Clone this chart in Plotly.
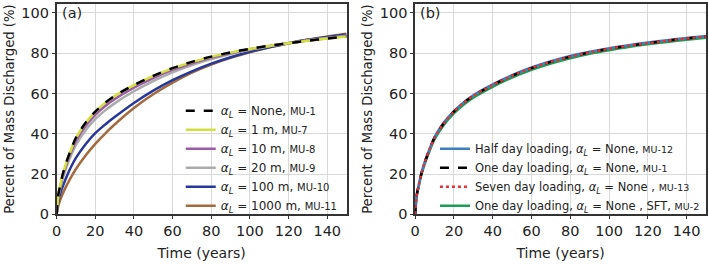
import plotly.graph_objects as go

t = [0, 1, 2, 3, 5, 7.5, 10, 15, 20, 25, 30, 40, 50, 60, 70, 80, 90, 100, 110, 120, 130, 140, 150]

# Panel (a)
mu1 = [0, 10.4, 14.8, 19.3, 25.8, 32.3, 38.0, 45.5, 51.0, 55.3, 58.8, 64.2, 68.8, 72.6, 75.7, 78.3, 80.4, 82.2, 83.7, 85.0, 86.2, 87.3, 88.3]
mu7 = [0, 10.3, 14.7, 19.2, 25.7, 32.2, 37.9, 45.4, 50.9, 55.2, 58.7, 64.1, 68.7, 72.5, 75.6, 78.2, 80.3, 82.1, 83.6, 85.0, 86.2, 87.3, 88.3]
mu8 = [0, 9.9, 14.2, 18.4, 24.7, 31.0, 36.5, 43.9, 49.4, 53.7, 57.2, 62.9, 67.7, 71.7, 75.0, 77.8, 80.0, 82.0, 83.6, 85.0, 86.3, 87.4, 88.5]
mu9 = [0, 9.3, 13.4, 17.2, 23.2, 29.3, 34.5, 41.8, 47.3, 51.5, 55.1, 61.1, 66.2, 70.5, 74.1, 77.1, 79.6, 81.7, 83.5, 85.0, 86.4, 87.6, 88.7]
mu10 = [0, 7.2, 10.7, 13.4, 18.3, 23.6, 28.0, 34.8, 40.3, 44.5, 48.3, 55.3, 61.4, 66.6, 71.0, 74.8, 78.0, 80.7, 83.0, 85.0, 86.7, 88.1, 89.3]
mu11 = [0, 4.6, 7.4, 9.8, 14.0, 18.5, 22.5, 29.2, 35.0, 40.0, 44.6, 52.8, 59.6, 65.4, 70.4, 74.4, 77.7, 80.5, 82.9, 85.0, 86.8, 88.3, 89.7]

# Panel (b)
mu12 = [0, 10.6, 15.1, 19.6, 26.1, 32.6, 38.3, 45.8, 51.3, 55.6, 59.1, 64.5, 69.1, 72.9, 76.0, 78.6, 80.7, 82.5, 84.0, 85.3, 86.5, 87.6, 88.6]
mu1b = [0, 10.4, 14.8, 19.3, 25.8, 32.3, 38.0, 45.5, 51.0, 55.3, 58.8, 64.2, 68.8, 72.6, 75.7, 78.3, 80.4, 82.2, 83.7, 85.0, 86.2, 87.3, 88.3]
mu13 = [0, 10.4, 14.8, 19.3, 25.8, 32.3, 38.0, 45.5, 51.0, 55.3, 58.8, 64.2, 68.8, 72.6, 75.7, 78.3, 80.4, 82.2, 83.7, 85.0, 86.2, 87.3, 88.3]
mu2 = [0, 10.0, 14.3, 18.7, 25.1, 31.5, 37.2, 44.6, 50.1, 54.4, 57.9, 63.3, 67.9, 71.7, 74.9, 77.5, 79.7, 81.5, 83.1, 84.4, 85.6, 86.7, 87.7]

AL = "<i>α</i><sub><i>L</i></sub>"
MU = "<span style='font-size:10px'>{}</span>"
MU2 = "<span style='font-size:9.5px'>{}</span>"

fig = go.Figure()

series_a = [
    (mu1, "black", "dash", AL + " = None, " + MU.format("MU-1")),
    (mu7, "#d2e03c", "solid", AL + " = 1 m, " + MU.format("MU-7")),
    (mu8, "#9b5ba6", "solid", AL + " = 10 m, " + MU.format("MU-8")),
    (mu9, "#ababab", "solid", AL + " = 20 m, " + MU.format("MU-9")),
    (mu10, "#26399a", "solid", AL + " = 100 m, " + MU.format("MU-10")),
    (mu11, "#a26a3e", "solid", AL + " = 1000 m, " + MU.format("MU-11")),
]
for i in [5, 4, 3, 2, 1, 0]:
    y, c, d, name = series_a[i]
    fig.add_trace(go.Scatter(x=t, y=y, mode="lines", name=name, legendrank=i + 1,
                             line=dict(color=c, dash=d, width=2.5, shape="spline", smoothing=0.8),
                             xaxis="x", yaxis="y", legend="legend"))

series_b = [
    (mu12, "#3b7fc0", "solid", "Half day loading, " + AL + " = None, " + MU2.format("MU-12")),
    (mu1b, "black", "dash", "One day loading, " + AL + " = None, " + MU2.format("MU-1")),
    (mu13, "#e8303a", "dot", "Seven day loading, " + AL + " = None , " + MU2.format("MU-13")),
    (mu2, "#1a9e55", "solid", "One day loading, " + AL + " = None , SFT, " + MU2.format("MU-2")),
]
for i in [3, 0, 1, 2]:
    y, c, d, name = series_b[i]
    fig.add_trace(go.Scatter(x=t, y=y, mode="lines", name=name, legendrank=i + 1,
                             line=dict(color=c, dash=d, width=2.5, shape="spline", smoothing=0.8),
                             xaxis="x2", yaxis="y2", legend="legend2"))

font = "DejaVu Sans, sans-serif"
tickvals_x = [0, 20, 40, 60, 80, 100, 120, 140]
tickvals_y = [0, 20, 40, 60, 80, 100]
ax_common = dict(showline=True, mirror=True, linecolor="#333333", linewidth=1.5,
                 ticks="outside", ticklen=3, tickcolor="#333333", tickwidth=1,
                 showgrid=True, gridcolor="#d9d9d9", gridwidth=1, zeroline=False,
                 tickfont=dict(size=14.5, color="#222222"))
xt_font = dict(size=14, color="#222222")
yt_font = dict(size=13.2, color="#222222")

W, H = 709, 264
def px(x0, y0, x1, y1):
    return dict(x0=x0 / W, x1=x1 / W, y0=1 - y1 / H, y1=1 - y0 / H)

fig.update_layout(
    width=W, height=H, margin=dict(l=0, r=0, t=0, b=0),
    paper_bgcolor="white", plot_bgcolor="white",
    font=dict(family=font, color="#222222"),
    xaxis=dict(domain=[0.0733, 0.4852], range=[0, 150], tickvals=tickvals_x,
               title=dict(text="Time (years)", standoff=10, font=xt_font), anchor="y", **ax_common),
    yaxis=dict(domain=[0.1629, 0.9848], range=[0, 104.5], tickvals=tickvals_y,
               title=dict(text="Percent of Mass Discharged (%)", standoff=4, font=yt_font), anchor="x", **ax_common),
    xaxis2=dict(domain=[0.5825, 0.9958], range=[0, 150], tickvals=tickvals_x,
                title=dict(text="Time (years)", standoff=10, font=xt_font), anchor="y2", **ax_common),
    yaxis2=dict(domain=[0.1629, 0.9848], range=[0, 104.5], tickvals=tickvals_y,
                title=dict(text="Percent of Mass Discharged (%)", standoff=4, font=yt_font), anchor="x2", **ax_common),
    legend=dict(x=177 / W, y=0.14, xanchor="left", yanchor="bottom",
                bgcolor="rgba(0,0,0,0)", borderwidth=0,
                font=dict(size=12, color="#222222"), itemwidth=30, tracegroupgap=0),
    legend2=dict(x=433 / W, y=0.14, xanchor="left", yanchor="bottom",
                 bgcolor="rgba(0,0,0,0)", borderwidth=0,
                 font=dict(size=11.5, color="#222222"), itemwidth=30, tracegroupgap=0),
    shapes=[
        dict(type="rect", xref="paper", yref="paper", layer="between",
             fillcolor="white", line=dict(width=0), **px(177, 104, 340, 216)),
        dict(type="rect", xref="paper", yref="paper", layer="between",
             fillcolor="white", line=dict(width=0), **px(433, 140, 705, 216)),
    ],
    annotations=[
        dict(text="(a)", x=0.0, y=100, xref="x", yref="y", xanchor="left", yanchor="middle",
             xshift=3, showarrow=False, font=dict(size=14.5, color="#222222")),
        dict(text="(b)", x=0.0, y=100, xref="x2", yref="y2", xanchor="left", yanchor="middle",
             xshift=3, showarrow=False, font=dict(size=14.5, color="#222222")),
    ],
    showlegend=True,
)

fig.write_html("out.html")
